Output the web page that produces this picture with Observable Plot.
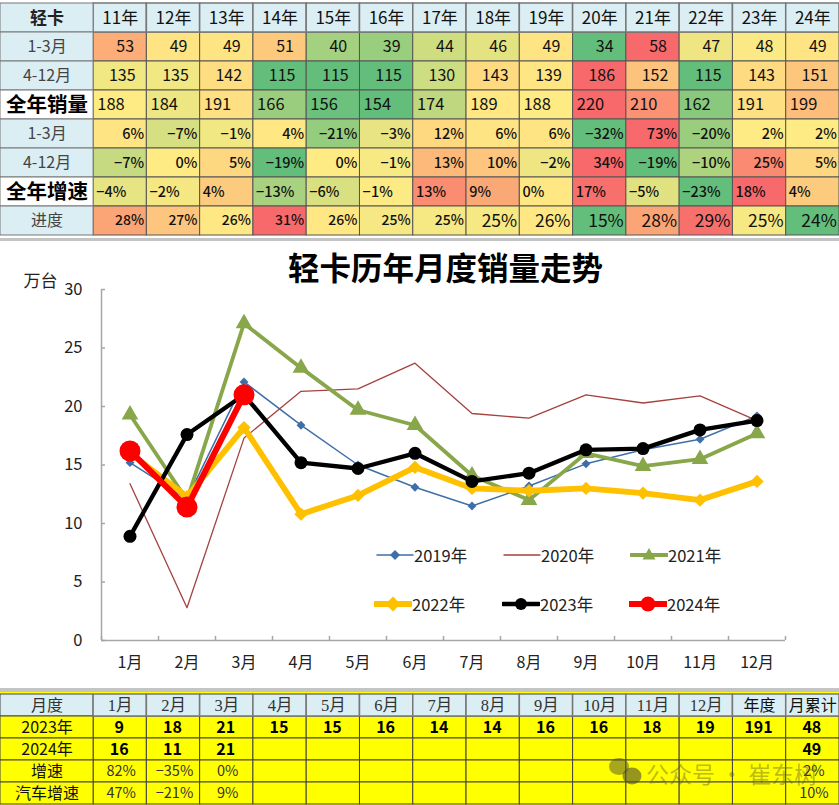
<!DOCTYPE html>
<html><head><meta charset="utf-8">
<script src="https://cdn.jsdelivr.net/npm/d3@7"></script>
<script src="https://cdn.jsdelivr.net/npm/@observablehq/plot@0.6"></script>
<style>
html,body{margin:0;padding:0;background:#c4c4c4;width:839px;height:805px;overflow:hidden}
#page{position:relative;width:839px;height:805px;font-family:"Noto Sans CJK SC","Noto Sans",sans-serif}
#page svg{display:block}
#top{height:238px}#chart{position:absolute;left:0;top:241px;background:#fff}
#bottom{position:absolute;left:0;top:692px}
.lg{position:absolute;display:flex;align-items:center;font-size:16.5px;color:#222;line-height:20px}
#mark{position:absolute;left:609px;top:756px;display:flex;align-items:center;font-size:23px;word-spacing:0;color:rgba(90,90,50,.42);white-space:nowrap}
</style></head><body><div id="page"><div id="top"></div><div id="chart"></div><div id="bottom"></div><div id="legend"></div><div id="mark"></div></div>
<script>
const months=["1月","2月","3月","4月","5月","6月","7月","8月","9月","10月","11月","12月"];
const s2019=[15.2,12.1,22.1,18.4,15.0,13.1,11.5,13.2,15.1,16.3,17.2,19.2];
const s2020=[13.4,2.8,17.3,21.3,21.5,23.7,19.4,19.0,21.0,20.3,20.9,18.8];
const s2021=[19.3,12.0,27.1,23.3,19.7,18.4,14.1,12.0,16.0,14.9,15.5,17.7];
const s2022=[16.0,12.3,18.2,10.8,12.4,14.8,13.0,12.8,13.0,12.6,12.0,13.6];
const s2023=[8.9,17.6,21.0,15.2,14.7,16.0,13.6,14.3,16.3,16.4,18.0,18.8];
const s2024=[16.2,11.4,21.0];
const yTicks=[0,5,10,15,20,25,30];

const yearHeads=["11年","12年","13年","14年","15年","16年","17年","18年","19年","20年","21年","22年","23年","24年"];
const heatLabels=["轻卡","1-3月","4-12月","全年销量","1-3月","4-12月","全年增速","进度"];
const q1Sales=[53,49,49,51,40,39,44,46,49,34,58,47,48,49];
const restSales=[135,135,142,115,115,115,130,143,139,186,152,115,143,151];
const yearSales=[188,184,191,166,156,154,174,189,188,220,210,162,191,199];
const q1Growth=[6,-7,-1,4,-21,-3,12,6,6,-32,73,-20,2,2];
const restGrowth=[-7,0,5,-19,0,-1,13,10,-2,34,-19,-10,25,5];
const yearGrowth=[-4,-2,4,-13,-6,-1,13,9,0,17,-5,-23,18,4];
const progress=[28,27,26,31,26,25,25,25,26,15,28,29,25,24];
const progressStops=[24,25,26,28,29,31];
const progressLevels=[-1,-.06,.03,.55,.95,1];

const monthHeads=[...months,"年度","月累计"];
const tableLabels=["月度","2023年","2024年","增速","汽车增速"];
const t2023=["9","18","21","15","15","16","14","14","16","16","18","19","191","48"];
const t2024=["16","11","21","","","","","","","","","","","49"];
const tGrowth=["82%","-35%","0%","","","","","","","","","","","2%"];
const tAutoGrowth=["47%","-21%","9%","","","","","","","","","","","10%"];

const W=839, labelSpan=1.747;
const minus=s=>String(s).replace("-","−");
const xTable={type:"linear",domain:[-labelSpan,14],range:[0,W]};
const cn='"Noto Sans CJK SC","Noto Sans",sans-serif';

/* ---------- heat table ---------- */
const rows=[
 {r:1,v:q1Sales,a:"mid",pct:false,size:16},
 {r:2,v:restSales,a:"near",pct:false,size:16},
 {r:3,v:yearSales,a:"start",pct:false,size:16.5},
 {r:4,v:q1Growth,a:"end",pct:true,size:14.5},
 {r:5,v:restGrowth,a:"end",pct:true,size:14.5},
 {r:6,v:yearGrowth,a:"start",pct:true,size:14.5},
 {r:7,v:progress,a:"end",pct:true,size:null}
];
const heat=rows.flatMap(row=>{
  const m=d3.median(row.v);
  const sc=row.r===7
    ?d3.scaleLinear().domain(progressStops).range(progressLevels).clamp(true)
    :d3.scaleLinear().domain([d3.min(row.v),m,d3.max(row.v)]).range([-1,0,1]);
  return row.v.map((v,i)=>({r:row.r,c:i,t:sc(v),a:row.a,
    text:minus(v)+(row.pct?"%":""),
    size:row.size??((i<7)?14:17.5),
    bold:row.pct&&!(row.r===7&&i>=7)}));
});
const heads=yearHeads.map((h,c)=>({c,h}));
const labelRows=heatLabels.map((l,r)=>({r,l}));
const isBig=r=>r===3||r===6;
const border={stroke:"#555",strokeWidth:1};
const txt=(data,o)=>Plot.text(data,{x:d=>d.c+.5,y:"r",fontFamily:cn,fill:"#111",...o});
const topPlot=Plot.plot({width:W,height:238,margin:0,
  x:{...xTable,axis:null},
  y:{type:"band",domain:d3.range(8),padding:0,axis:null},
  color:{type:"linear",domain:[-1,0,1],range:["#63be7b","#ffeb84","#f8696b"],interpolate:"rgb"},
  style:{background:"#fff",fontFamily:cn},
  marks:[
   Plot.barX(heat,{x1:"c",x2:d=>d.c+1,y:"r",fill:"t",...border}),
   Plot.barX(heads,{x1:"c",x2:d=>d.c+1,y:()=>0,fill:"#daeef3",stroke:"#777",strokeWidth:1.5}),
   Plot.barX(labelRows,{x1:()=>-labelSpan,x2:()=>0,y:"r",fill:d=>isBig(d.r)?"#ffffff":"#daeef3",stroke:"#777",strokeWidth:1}),
   Plot.text(heads,{x:d=>d.c+.5,y:()=>0,text:"h",fontSize:17,fill:"#111",fontFamily:cn,dy:1}),
   Plot.text(labelRows.filter(d=>d.r===0),{x:()=>-labelSpan/2,y:"r",text:"l",fontSize:17,fontWeight:"bold",fill:"#222",fontFamily:cn,dy:1}),
   Plot.text(labelRows.filter(d=>isBig(d.r)),{x:()=>-labelSpan/2,y:"r",text:"l",fontSize:20.5,fontWeight:"bold",fill:"#000",fontFamily:cn}),
   Plot.text(labelRows.filter(d=>d.r>0&&!isBig(d.r)),{x:()=>-labelSpan/2,y:"r",text:"l",fontSize:16,fill:"#444",fontFamily:cn}),
   txt(heat.filter(d=>d.a==="mid"),{text:"text",fontSize:"size",dx:5}),
   txt(heat.filter(d=>d.a==="near"),{text:"text",fontSize:"size",dx:2}),
   txt(heat.filter(d=>d.a==="start"&&!d.bold),{text:"text",fontSize:"size",textAnchor:"start",dx:-23}),
   txt(heat.filter(d=>d.a==="start"&&d.bold),{text:"text",fontSize:"size",fontWeight:"500",textAnchor:"start",dx:-24}),
   txt(heat.filter(d=>d.a==="end"&&d.bold),{text:"text",fontSize:"size",fontWeight:"500",textAnchor:"end",dx:24}),
   txt(heat.filter(d=>d.a==="end"&&!d.bold),{text:"text",fontSize:"size",textAnchor:"end",dx:24})
  ]});
document.getElementById("top").append(topPlot);

/* ---------- line chart ---------- */
const pts=a=>a.map((v,i)=>({i:i+.5,v}));
const styles=[
 {name:"2019年",data:s2019,color:"#3f6fa8",w:1.5,sym:"diamond2",r:4},
 {name:"2020年",data:s2020,color:"#a5423f",w:1.3,sym:null,r:0},
 {name:"2021年",data:s2021,color:"#88a64a",w:3.8,sym:"triangle",r:6.2},
 {name:"2022年",data:s2022,color:"#ffc000",w:5.8,sym:"diamond2",r:6},
 {name:"2023年",data:s2023,color:"#000000",w:4.3,sym:"circle",r:6.5},
 {name:"2024年",data:s2024,color:"#ff0000",w:6,sym:"circle",r:10.5}
];
const seriesMarks=styles.flatMap(s=>[
  Plot.line(pts(s.data),{x:"i",y:"v",stroke:s.color,strokeWidth:s.w,curve:"linear"}),
  ...(s.sym?[Plot.dot(pts(s.data),{x:"i",y:"v",fill:s.color,r:s.r,symbol:s.sym,stroke:"none"})]:[])
]);
const chart=Plot.plot({width:W,height:447,marginLeft:101,marginRight:54,marginTop:48,marginBottom:48,
  x:{type:"linear",domain:[0,12],axis:null},
  y:{domain:[0,30],axis:null},
  style:{background:"#fff",fontFamily:cn,fontSize:"16px",color:"#222"},
  marks:[
    Plot.axisY({ticks:yTicks,label:null,tickSize:0,tickPadding:19,fontSize:16.5,fill:"#222",fontFamily:cn}),
    Plot.axisX({ticks:months.map((m,i)=>i+.5),label:null,tickSize:0,tickPadding:16,fontSize:16,fill:"#222",fontFamily:cn,tickFormat:v=>months[v-.5]}),
    Plot.ruleX(d3.range(13),{y1:0,y2:.35,stroke:"#a6a6a6",strokeWidth:1.5}),
    Plot.ruleY(yTicks,{x1:0,x2:.07,stroke:"#a6a6a6",strokeWidth:1.5}),
    Plot.ruleX([0],{stroke:"#a6a6a6",strokeWidth:1.5}),
    Plot.ruleY([0],{stroke:"#a6a6a6",strokeWidth:1.5}),
    ...seriesMarks,
    Plot.text(["轻卡历年月度销量走势"],{frameAnchor:"top",dx:2,dy:-32,text:d=>d,fontSize:31.5,fontWeight:"bold",fill:"#000",fontFamily:cn}),
    Plot.text(["万台"],{frameAnchor:"top-left",dx:-78,dy:-15,text:d=>d,fontSize:17,fill:"#222",fontFamily:cn})
  ]});
document.getElementById("chart").append(chart);

/* legend */
const legendPos=[[376,554],[503,554],[630,554],[374,603],[502,603],[629,603]];
const sw=38;
const legend=document.getElementById("legend");
styles.forEach((s,k)=>{
  const [lx,ly]=legendPos[k];
  const d=document.createElement("div");d.className="lg";
  d.style.left=lx+"px";d.style.top=(ly-10)+"px";
  const c=sw/2,h=22,m=h/2;
  let g="";
  if(s.sym==="diamond2")g=`<polygon points="${c},${m-s.r*1.25} ${c+s.r*1.25},${m} ${c},${m+s.r*1.25} ${c-s.r*1.25},${m}" fill="${s.color}"/>`;
  if(s.sym==="triangle")g=`<polygon points="${c},${m-7} ${c+6.5},${m+4.5} ${c-6.5},${m+4.5}" fill="${s.color}"/>`;
  if(s.sym==="circle")g=`<circle cx="${c}" cy="${m}" r="${k===5?7.5:6}" fill="${s.color}"/>`;
  d.innerHTML=`<svg width="${sw}" height="${h}"><line x1="1" x2="${sw-1}" y1="${m}" y2="${m}" stroke="${s.color}" stroke-width="${s.w}" stroke-linecap="round"/>${g}</svg><span>${s.name}</span>`;
  legend.append(d);
});

/* ---------- bottom table ---------- */
const bodyRows=[t2023,t2024,tGrowth,tAutoGrowth];
const bodyCells=bodyRows.flatMap((a,ri)=>a.map((text,c)=>({r:ri+1,c,text:minus(text)})));
const tHeads=monthHeads.map((h,c)=>({c,h,r:0}));
const tLabels=tableLabels.map((l,r)=>({r,l}));
const serif='"Liberation Serif","Noto Sans CJK SC",serif';
const bottom=Plot.plot({width:W,height:113,margin:0,
  x:{...xTable,axis:null},
  y:{type:"band",domain:d3.range(5),padding:0,axis:null},
  style:{background:"#ffff00",fontFamily:cn},
  marks:[
   Plot.barX(bodyCells,{x1:"c",x2:d=>d.c+1,y:"r",fill:"#ffff00",stroke:"#444",strokeWidth:1}),
   Plot.barX(tLabels,{x1:()=>-labelSpan,x2:()=>0,y:"r",fill:d=>d.r?"#ffff00":"#daeef3",stroke:"#444",strokeWidth:1}),
   Plot.barX(tHeads,{x1:"c",x2:d=>d.c+1,y:"r",fill:"#daeef3",stroke:"#777",strokeWidth:1.5}),
   Plot.text(tLabels,{x:()=>-labelSpan/2,y:"r",text:"l",fontSize:16,fill:d=>d.r?"#111":"#333",fontFamily:cn}),
   Plot.text(tHeads.slice(0,12),{x:d=>d.c+.5,y:"r",text:"h",fontSize:16.5,fill:"#333",fontFamily:serif}),
   Plot.text(tHeads.slice(12),{x:d=>d.c+.5,y:"r",text:"h",fontSize:16,fill:"#111",fontFamily:cn}),
   Plot.text(bodyCells.filter(d=>d.r<=2&&d.text),{x:d=>d.c+.5,y:"r",text:"text",fontSize:16,fontWeight:"bold",fill:"#000",fontFamily:cn,dx:-1}),
   Plot.text(bodyCells.filter(d=>d.r>2&&d.text),{x:d=>d.c+.5,y:"r",text:"text",fontSize:14.5,fill:"#333",fontFamily:cn,dx:1})
  ]});
document.getElementById("bottom").append(bottom);

/* watermark */
document.getElementById("mark").innerHTML=`<svg width="34" height="30" style="margin-right:3px"><ellipse cx="10" cy="8.5" rx="10" ry="8.5" fill="rgba(80,80,50,.5)"/><ellipse cx="23" cy="18" rx="9.5" ry="8.5" fill="rgba(80,80,50,.6)"/></svg><span>公众号 · 崔东树</span>`;
</script></body></html>
